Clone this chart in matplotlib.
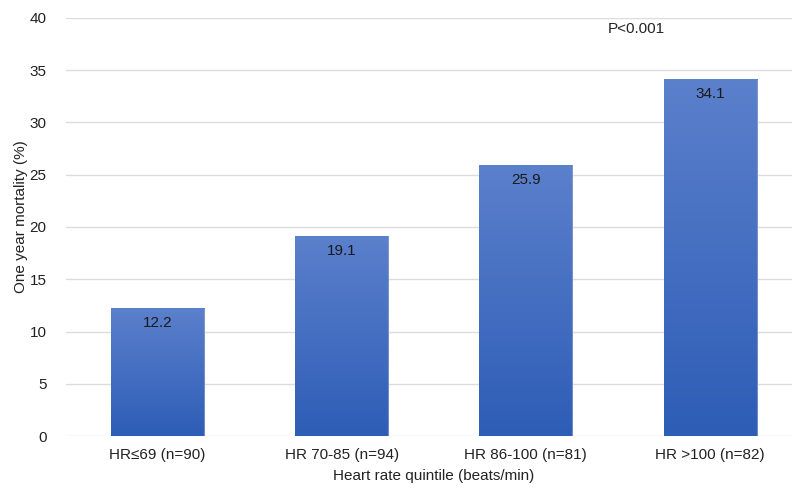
import numpy as np
import matplotlib
matplotlib.use('Agg')
import matplotlib.pyplot as plt
from matplotlib.colors import LinearSegmentedColormap

plt.rcParams['font.family'] = ['Liberation Sans', 'DejaVu Sans']

categories = ['HR\u226469 (n=90)', 'HR 70-85 (n=94)', 'HR 86-100 (n=81)', 'HR >100 (n=82)']
mortality = [12.2, 19.1, 25.9, 34.1]
value_labels = ['12.2', '19.1', '25.9', '34.1']

fig = plt.figure(figsize=(7.92, 4.88), dpi=100)
ax = fig.add_axes((66 / 792, 52 / 488, 726 / 792, 418 / 488))

x = np.arange(len(categories))
width = 0.505

# gradient fill: lighter on top, darker at the bottom
cmap = LinearSegmentedColormap.from_list('bar', ['#2e5db6', '#5b80cc'])
grad = np.linspace(0, 1, 256).reshape(-1, 1)

bars = ax.bar(x, mortality, width=width, color='none', edgecolor='none', zorder=2)
for b in bars:
    x0, w, h = b.get_x(), b.get_width(), b.get_height()
    ax.imshow(grad, cmap=cmap, origin='lower', aspect='auto',
              extent=(x0, x0 + w, 0, h), zorder=2)
    ax.plot([x0 + w, x0 + w], [0, h], color='#9aa8c4', lw=0.8, alpha=0.6, zorder=2)

for xi, v, t in zip(x, mortality, value_labels):
    ax.text(xi, v - 1.4, t, ha='center', va='center', fontsize=11, color='#1a1a1a', zorder=3)

ax.text(2.6, 38.9, 'P<0.001', ha='center', va='center', fontsize=11, color='#222222')

ax.set_xlim(-0.497, 3.445)
ax.set_ylim(0, 40)
ax.set_yticks(np.arange(0, 41, 5))
ax.set_xticks(x)
ax.set_xticklabels(categories, fontsize=11, color='#222222')
ax.tick_params(axis='y', labelsize=11, colors='#222222', length=0, pad=14)
ax.tick_params(axis='x', length=0, pad=9)
ax.grid(axis='y', color='#dcdcdc', lw=1, zorder=0)
ax.set_axisbelow(True)
for s in ax.spines.values():
    s.set_visible(False)

ax.set_xlabel('Heart rate quintile (beats/min)', fontsize=11, color='#222222')
ax.xaxis.set_label_coords((1.5 + 0.497) / (3.445 + 0.497), -0.079)
ax.set_ylabel('One year mortality (%)', fontsize=11, color='#222222')
ax.yaxis.set_label_coords(-0.052, 0.526)

fig.savefig('out.png', dpi=100)
